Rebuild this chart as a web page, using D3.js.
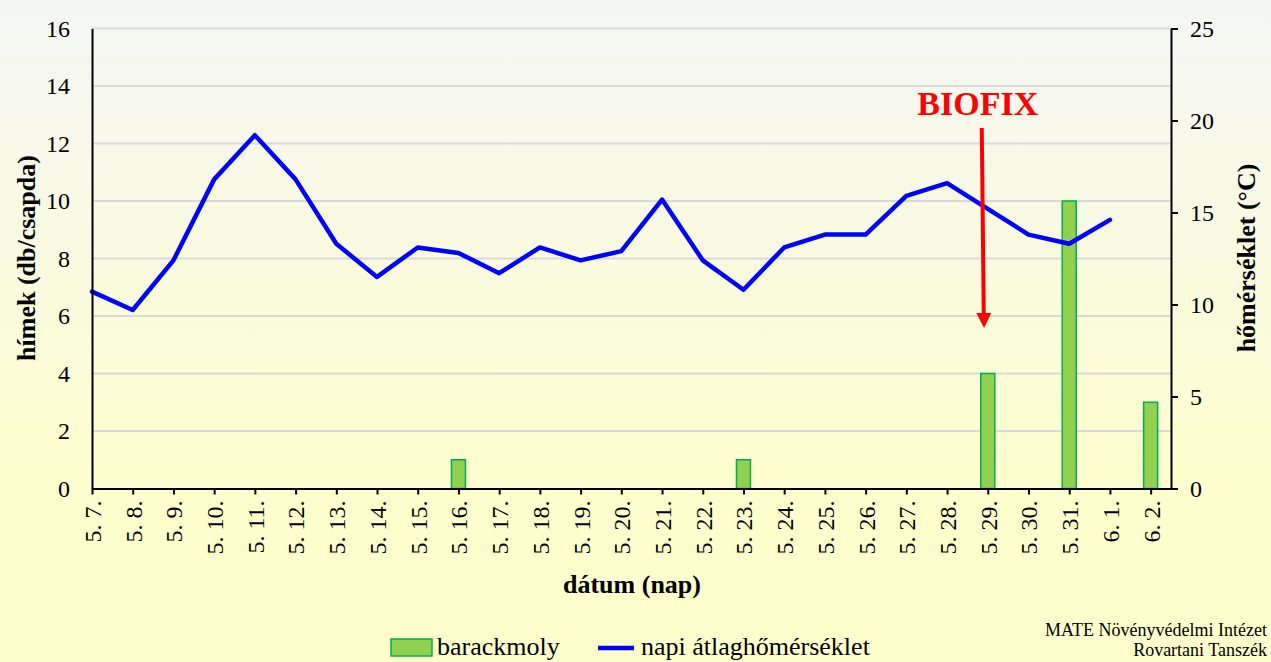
<!DOCTYPE html>
<html>
<head>
<meta charset="utf-8">
<script src="https://cdn.jsdelivr.net/npm/d3@7"></script>
<style>
  html, body { margin: 0; padding: 0; }
  body { width: 1271px; height: 662px; overflow: hidden; }
  text { font-family: "Liberation Serif", "Times New Roman", serif; }
</style>
</head>
<body>
<div id="chart"></div>
<script>
// dates shown on the x axis
const days = ["5. 7.", "5. 8.", "5. 9.", "5. 10.", "5. 11.", "5. 12.", "5. 13.", "5. 14.", "5. 15.",
  "5. 16.", "5. 17.", "5. 18.", "5. 19.", "5. 20.", "5. 21.", "5. 22.", "5. 23.", "5. 24.", "5. 25.",
  "5. 26.", "5. 27.", "5. 28.", "5. 29.", "5. 30.", "5. 31.", "6. 1.", "6. 2."];
// peach moth males per trap
const catches = [0, 0, 0, 0, 0, 0, 0, 0, 0, 1, 0, 0, 0, 0, 0, 0, 1, 0, 0, 0, 0, 0, 4, 0, 10, 0, 3];
// daily mean temperature (°C), no reading for the last day
const temps = [10.7, 9.7, 12.4, 16.8, 19.2, 16.8, 13.3, 11.5, 13.1, 12.8, 11.7, 13.1, 12.4, 12.9,
  15.7, 12.4, 10.8, 13.1, 13.8, 13.8, 15.9, 16.6, 15.2, 13.8, 13.3, 14.6, null];
const leftTicks = [0, 2, 4, 6, 8, 10, 12, 14, 16];
const rightTicks = [0, 5, 10, 15, 20, 25];
const biofixDay = "5. 29.";

const width = 1271, height = 662;
const margin = {top: 28.5, right: 100, bottom: 173.5, left: 92};
const serif = "'Liberation Serif', 'Times New Roman', serif";

const svg = d3.select("#chart").append("svg")
  .attr("width", width)
  .attr("height", height);

let grad = svg.append("defs").append("linearGradient")
  .attr("id", "bg").attr("x1", 0).attr("y1", 0).attr("x2", 0).attr("y2", 1);
grad.append("stop").attr("offset", "0").attr("stop-color", "#f4f6f4");
grad.append("stop").attr("offset", "0.72").attr("stop-color", "#fefece");
grad.append("stop").attr("offset", "1").attr("stop-color", "#ffffcc");

svg.append("rect").attr("width", width).attr("height", height).attr("fill", "url(#bg)");

const x = d3.scaleLinear()
  .domain([0, days.length - 0.5])
  .range([margin.left, width - margin.right]);

const y = d3.scaleLinear()
  .domain([0, 16])
  .range([height - margin.bottom, margin.top]);

const yT = d3.scaleLinear()
  .domain([0, 25])
  .range([height - margin.bottom, margin.top]);

// gridlines
svg.append("g")
  .selectAll("line")
  .data(leftTicks.filter(d => d > 0))
  .enter().append("line")
  .attr("x1", margin.left)
  .attr("x2", width - margin.right)
  .attr("y1", d => y(d))
  .attr("y2", d => y(d))
  .attr("stroke", "#d9d9d9")
  .attr("stroke-width", 2);

// bars
const barW = 14;
svg.append("g")
  .selectAll("rect")
  .data(catches.map((v, i) => ({v: v, i: i})).filter(d => d.v > 0))
  .enter().append("rect")
  .attr("x", d => x(d.i) - barW / 2)
  .attr("y", d => y(d.v))
  .attr("width", barW)
  .attr("height", d => y(0) - y(d.v))
  .attr("fill", "#92d050")
  .attr("stroke", "#00b050")
  .attr("stroke-width", 1.5);

// temperature line
const line = d3.line()
  .defined(d => d != null)
  .x((d, i) => x(i))
  .y(d => yT(d));

svg.append("path")
  .datum(temps)
  .attr("d", line)
  .attr("fill", "none")
  .attr("stroke", "#0000ff")
  .attr("stroke-width", 4.5)
  .attr("stroke-linejoin", "round")
  .attr("stroke-linecap", "round");

// axes
const xAxis = svg.append("g")
  .attr("transform", `translate(0,${y(0)})`)
  .call(d3.axisBottom(x).tickValues(d3.range(days.length)).tickFormat(i => days[i]).tickSize(6).tickSizeOuter(0))
  .attr("font-family", serif)
  .attr("font-size", 24);
xAxis.select(".domain").attr("stroke", "#000").attr("stroke-width", 2);
xAxis.selectAll(".tick line").attr("stroke", "#000").attr("stroke-width", 2);
xAxis.selectAll(".tick text")
  .attr("transform", "rotate(-90)")
  .attr("x", -12)
  .attr("y", 0)
  .attr("dy", "0.35em")
  .attr("text-anchor", "end")
  .attr("fill", "#000");

const leftAxis = svg.append("g")
  .attr("transform", `translate(${margin.left},0)`)
  .call(d3.axisLeft(y).tickValues(leftTicks).tickSize(0).tickPadding(22))
  .attr("font-family", serif)
  .attr("font-size", 24);
leftAxis.select(".domain").attr("stroke", "#000").attr("stroke-width", 2);
leftAxis.selectAll(".tick text").attr("fill", "#000");

const rightAxis = svg.append("g")
  .attr("transform", `translate(${width - margin.right},0)`)
  .call(d3.axisRight(yT).tickValues(rightTicks).tickSize(7).tickPadding(12).tickSizeOuter(0))
  .attr("font-family", serif)
  .attr("font-size", 24);
rightAxis.select(".domain").attr("stroke", "#000").attr("stroke-width", 2);
rightAxis.selectAll(".tick line").attr("stroke", "#000").attr("stroke-width", 2);
rightAxis.selectAll(".tick text").attr("fill", "#000");

// axis titles
svg.append("text")
  .attr("transform", "translate(35,258) rotate(-90)")
  .attr("text-anchor", "middle")
  .style("font-size", "26px")
  .style("font-weight", "bold")
  .text("hímek (db/csapda)");

svg.append("text")
  .attr("transform", "translate(1255,258) rotate(-90)")
  .attr("text-anchor", "middle")
  .style("font-size", "26px")
  .style("font-weight", "bold")
  .text("hőmérséklet (°C)");

svg.append("text")
  .attr("x", 632)
  .attr("y", 593)
  .attr("text-anchor", "middle")
  .style("font-size", "26px")
  .style("font-weight", "bold")
  .text("dátum (nap)");

// BIOFIX marker
const bi = days.indexOf(biofixDay);
svg.append("text")
  .attr("x", x(bi) - 10)
  .attr("y", 115)
  .attr("text-anchor", "middle")
  .attr("fill", "#ff0000")
  .style("font-size", "34px")
  .style("font-weight", "bold")
  .text("BIOFIX");

svg.append("line")
  .attr("x1", x(bi) - 6)
  .attr("y1", 128)
  .attr("x2", x(bi) - 4)
  .attr("y2", 316)
  .attr("stroke", "#ff0000")
  .attr("stroke-width", 4);
svg.append("path")
  .attr("d", d3.line()([[x(bi) - 11.5, 313], [x(bi) + 3.5, 313], [x(bi) - 3.7, 328]]))
  .attr("fill", "#ff0000");

// legend
const legend = svg.append("g");
legend.append("rect")
  .attr("x", 391).attr("y", 639).attr("width", 41).attr("height", 17)
  .attr("fill", "#92d050").attr("stroke", "#00b050").attr("stroke-width", 1.5);
legend.append("text")
  .attr("x", 437).attr("y", 655)
  .style("font-size", "26px")
  .text("barackmoly");
legend.append("line")
  .attr("x1", 598).attr("x2", 634).attr("y1", 648).attr("y2", 648)
  .attr("stroke", "#0000ff").attr("stroke-width", 4.5);
legend.append("text")
  .attr("x", 641).attr("y", 655)
  .style("font-size", "26px")
  .text("napi átlaghőmérséklet");

// credits
svg.append("text")
  .attr("x", 1267).attr("y", 636)
  .attr("text-anchor", "end")
  .style("font-size", "18px")
  .text("MATE Növényvédelmi Intézet");
svg.append("text")
  .attr("x", 1267).attr("y", 656)
  .attr("text-anchor", "end")
  .style("font-size", "18px")
  .text("Rovartani Tanszék");
</script>
</body>
</html>
